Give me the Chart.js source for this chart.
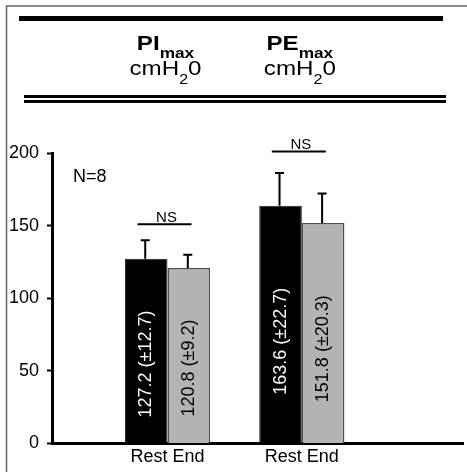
<!DOCTYPE html>
<html>
<head>
<meta charset="utf-8">
<script src="https://cdn.jsdelivr.net/npm/chart.js@4/dist/chart.umd.min.js"></script>
<style>
  html, body { margin: 0; padding: 0; background: #fff; }
  #wrap { width: 467px; height: 472px; }
</style>
</head>
<body>
<div id="wrap"><canvas id="chart" width="467" height="472"></canvas></div>
<script>
  const groups = [1, 2];
  const groupTitles = ['PI', 'PE'];
  const tickLabels = ['Rest End', 'Rest End'];
  const restMeans = [127.2, 163.6];
  const restSD = [12.7, 22.7];
  const endMeans = [120.8, 151.8];
  const endSD = [9.2, 20.3];
  const nsLevels = [151, 201];
  const yTicks = [0, 50, 100, 150, 200];

  const FONT = "'Liberation Sans', Arial, sans-serif";

  // header, frame, N=8 and NS marks
  const decorations = {
    id: 'decorations',
    afterDraw(chart) {
      const ctx = chart.ctx, xs = chart.scales.x, ys = chart.scales.y;
      ctx.save();
      // outer frame (cropped on right / bottom)
      ctx.strokeStyle = '#666';
      ctx.lineWidth = 1.5;
      ctx.beginPath();
      ctx.moveTo(6.5, 472); ctx.lineTo(6.5, 6); ctx.lineTo(467, 6);
      ctx.stroke();
      // header rules
      ctx.fillStyle = '#000';
      ctx.fillRect(19, 16, 424, 5);
      ctx.fillRect(24, 95, 422, 3);
      ctx.fillRect(24, 100, 422, 3);

      // titles
      const sx = 1.15;
      groups.forEach((g, i) => {
        const cx = xs.getPixelForValue(g) - 2;
        ctx.font = 'bold 21px ' + FONT;
        const w1 = ctx.measureText(groupTitles[i]).width;
        ctx.font = 'bold 15px ' + FONT;
        const w2 = ctx.measureText('max').width;
        let start = cx - (w1 + w2) * sx / 2;
        ctx.save();
        ctx.translate(start, 0); ctx.scale(sx, 1);
        ctx.textAlign = 'left'; ctx.textBaseline = 'alphabetic';
        ctx.font = 'bold 21px ' + FONT;
        ctx.fillText(groupTitles[i], 0, 50);
        ctx.font = 'bold 15px ' + FONT;
        ctx.fillText('max', w1, 58);
        ctx.restore();

        ctx.font = '21px ' + FONT;
        const a = ctx.measureText('cmH').width;
        const c = ctx.measureText('0').width;
        ctx.font = '14px ' + FONT;
        const b = ctx.measureText('2').width;
        start = cx - (a + b + c) * sx / 2;
        ctx.save();
        ctx.translate(start, 0); ctx.scale(sx, 1);
        ctx.font = '21px ' + FONT;
        ctx.fillText('cmH', 0, 75);
        ctx.fillText('0', a + b, 75);
        ctx.font = '14px ' + FONT;
        ctx.fillText('2', a, 84);
        ctx.restore();
      });

      // N=8
      ctx.font = '18px ' + FONT;
      ctx.textAlign = 'left'; ctx.textBaseline = 'alphabetic';
      ctx.fillText('N=8', chart.chartArea.left + 21, ys.getPixelForValue(180));

      // NS bars
      groups.forEach((g, i) => {
        const cx = xs.getPixelForValue(g) - 3;
        const py = ys.getPixelForValue(nsLevels[i]);
        ctx.lineWidth = 2; ctx.strokeStyle = '#000';
        ctx.beginPath(); ctx.moveTo(cx - 27, py); ctx.lineTo(cx + 27, py); ctx.stroke();
        ctx.font = '15px ' + FONT;
        ctx.textAlign = 'center'; ctx.textBaseline = 'bottom';
        ctx.fillText('NS', cx + 2, py + 1);
      });
      ctx.restore();
    }
  };

  // one-sided error bars and rotated value labels
  const errorBars = {
    id: 'errorBars',
    afterDatasetsDraw(chart) {
      const ctx = chart.ctx, ys = chart.scales.y;
      const means = [restMeans, endMeans], sds = [restSD, endSD];
      chart.data.datasets.forEach((ds, d) => {
        chart.getDatasetMeta(d).data.forEach((bar, i) => {
          const top = ys.getPixelForValue(means[d][i] + sds[d][i]);
          ctx.save();
          ctx.strokeStyle = '#000'; ctx.lineWidth = 2;
          ctx.beginPath();
          ctx.moveTo(bar.x - 1, bar.y); ctx.lineTo(bar.x - 1, top);
          ctx.moveTo(bar.x - 5.5, top); ctx.lineTo(bar.x + 3.5, top);
          ctx.stroke();
          const ly = ys.getPixelForValue(means[d][i] * 0.43);
          ctx.translate(bar.x, ly);
          ctx.rotate(-Math.PI / 2);
          ctx.font = '18px ' + FONT;
          ctx.fillStyle = d === 0 ? '#fff' : '#000';
          ctx.textAlign = 'center'; ctx.textBaseline = 'middle';
          ctx.fillText(means[d][i].toFixed(1) + ' (\u00b1' + sds[d][i].toFixed(1) + ')', 0, 0);
          ctx.restore();
        });
      });
    }
  };

  new Chart(document.getElementById('chart'), {
    type: 'bar',
    data: {
      datasets: [
        {
          label: 'Rest',
          data: groups.map((g, i) => ({ x: g, y: restMeans[i] })),
          backgroundColor: '#000',
          borderColor: '#222',
          borderWidth: 1
        },
        {
          label: 'End',
          data: groups.map((g, i) => ({ x: g, y: endMeans[i] })),
          backgroundColor: '#b3b3b3',
          borderColor: '#4d4d4d',
          borderWidth: 1.5
        }
      ]
    },
    options: {
      responsive: false,
      animation: false,
      devicePixelRatio: 1,
      categoryPercentage: 0.634,
      barPercentage: 1,
      layout: { padding: { top: 153, right: 4, left: 0, bottom: 0 } },
      plugins: { legend: { display: false }, tooltip: { enabled: false } },
      scales: {
        x: {
          type: 'linear',
          min: 0.14,
          max: 3.2,
          offset: false,
          bounds: 'data',
          afterBuildTicks: s => { s.ticks = groups.map(v => ({ value: v })); },
          afterFit: s => { s.height = 28.5; },
          grid: { display: false, drawTicks: false, offset: false },
          border: { display: true, width: 3, color: '#000' },
          ticks: {
            callback: (v, i) => tickLabels[i],
            font: { family: FONT, size: 18 },
            color: '#000',
            padding: 3,
            maxRotation: 0,
            autoSkip: false
          }
        },
        y: {
          min: 0,
          max: 200,
          afterBuildTicks: s => { s.ticks = yTicks.map(v => ({ value: v })); },
          afterFit: s => { s.width = 52; },
          grid: { drawOnChartArea: false, tickLength: 5, tickColor: '#000', tickWidth: 2 },
          border: { display: true, width: 3, color: '#000' },
          ticks: {
            font: { family: FONT, size: 18 },
            color: '#000',
            padding: 8
          }
        }
      }
    },
    plugins: [errorBars, decorations]
  });
</script>
</body>
</html>
